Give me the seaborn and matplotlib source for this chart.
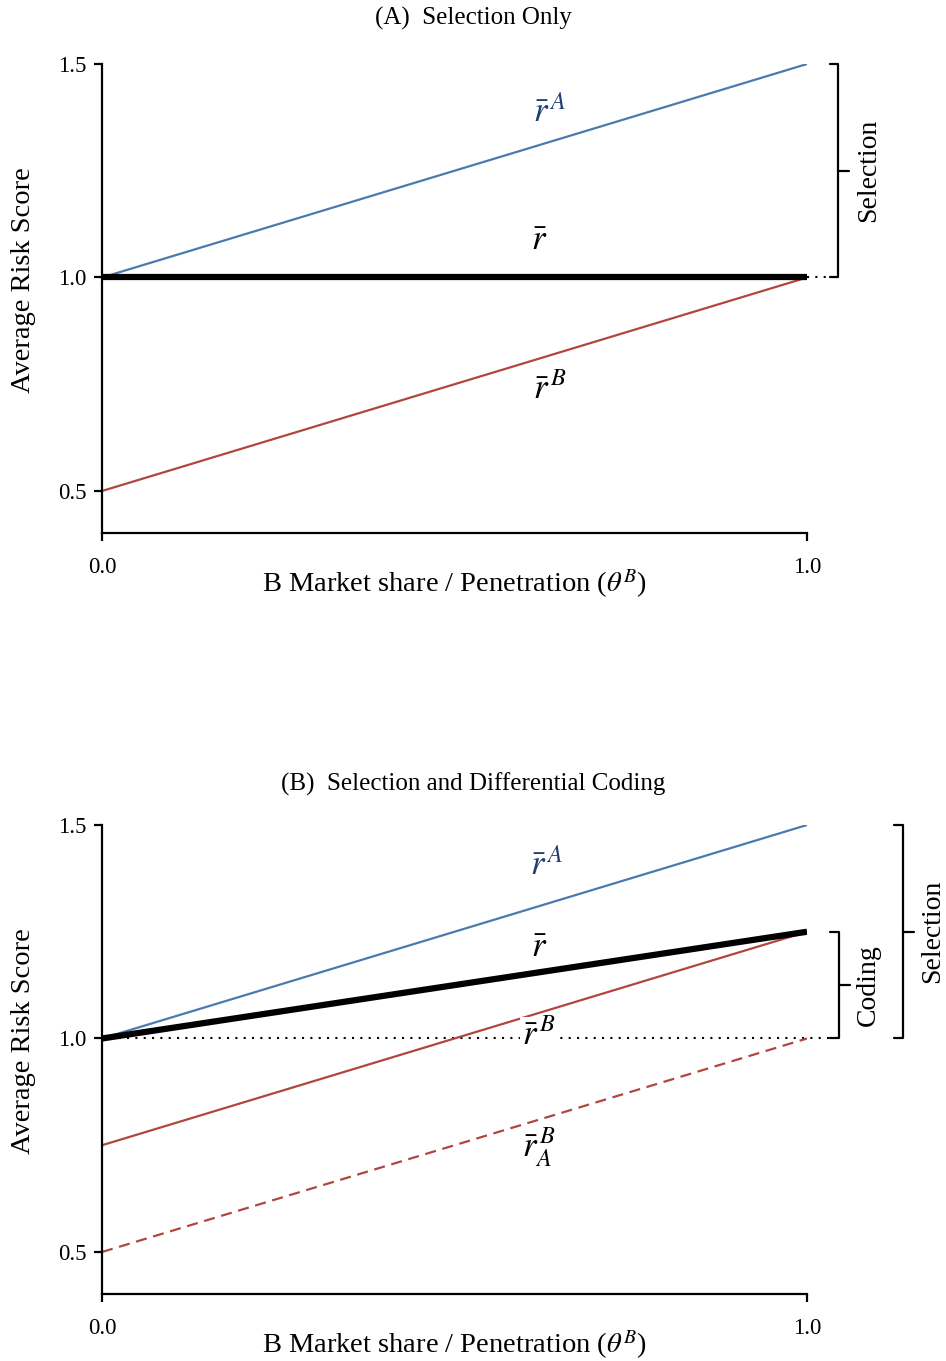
import matplotlib
matplotlib.use("Agg")
import matplotlib.pyplot as plt
import seaborn as sns
import pandas as pd

# ---- data ----
theta = [0.0, 1.0]
a_rA = [1.0, 1.5]
a_r = [1.0, 1.0]
a_rB = [0.5, 1.0]
b_rA = [1.0, 1.5]
b_r = [1.0, 1.25]
b_rB = [0.75, 1.25]
b_rAB = [0.5, 1.0]
yticks = [0.5, 1.0, 1.5]
xticks = [0.0, 1.0]

sns.set_theme(style="ticks")
plt.rcParams['font.family'] = ['Liberation Serif', 'DejaVu Serif']
plt.rcParams['mathtext.fontset'] = 'stix'
plt.rcParams['text.color'] = 'black'
plt.rcParams['axes.labelcolor'] = 'black'

BLUE = '#4a7aae'
RED = '#b0463f'
LBLUE = '#1f3f73'

fig = plt.figure(figsize=(9.46, 13.61), dpi=100)
W, H = 946, 1361
def axrect(top, bottom, left=102, right=807):
    return [left / W, 1 - bottom / H, (right - left) / W, (bottom - top) / H]

axA = fig.add_axes(axrect(64, 533))
axB = fig.add_axes(axrect(825, 1294))

def style(ax):
    ax.set_xlim(0, 1)
    ax.set_ylim(0.4016, 1.5)
    ax.set_xticks(xticks)
    ax.set_yticks(yticks)
    ax.set_xticklabels([f"{v:.1f}" for v in xticks])
    ax.set_yticklabels([f"{v:.1f}" for v in yticks])
    for s in ['top', 'right']:
        ax.spines[s].set_visible(False)
    for s in ['left', 'bottom']:
        ax.spines[s].set_linewidth(1.6)
        ax.spines[s].set_color('black')
    ax.tick_params(axis='both', which='major', length=6, width=1.6, color='black',
                   labelsize=16.5, labelcolor='black')
    ax.tick_params(axis='x', pad=11)
    ax.tick_params(axis='y', pad=5)
    ax.set_xlabel(r"B Market share / Penetration ($\theta^B$)", fontsize=20.5, color='black')
    ax.set_ylabel("Average Risk Score", fontsize=20.5, color='black')
    ax.xaxis.set_label_coords(0.5, -0.072)
    ax.yaxis.set_label_coords(-0.094, 0.54)
    ax.grid(False)

def bracket(ax, x, y0, y1, tick=0.012, nub=0.016):
    ym = (y0 + y1) / 2
    ax.plot([x - tick, x, x, x - tick], [y0, y0, y1, y1], color='black', lw=1.6,
            clip_on=False, solid_joinstyle='round')
    ax.plot([x, x + nub], [ym, ym], color='black', lw=1.6, clip_on=False)

# ---- panel A ----
dfA = pd.DataFrame({'theta': theta * 3,
                    'val': a_rA + a_r + a_rB,
                    'series': ['rA'] * 2 + ['r'] * 2 + ['rB'] * 2})
sns.lineplot(data=dfA[dfA.series == 'rA'], x='theta', y='val', color=BLUE, lw=1.6, ax=axA)
sns.lineplot(data=dfA[dfA.series == 'rB'], x='theta', y='val', color=RED, lw=1.6, ax=axA)
sns.lineplot(data=dfA[dfA.series == 'r'], x='theta', y='val', color='black', lw=4.5, ax=axA,
             solid_capstyle='butt')
axA.plot([1.0, 1.035], [1.0, 1.0], color='black', lw=1.5, ls=(0, (1, 3)), clip_on=False)
style(axA)
axA.text(0.635, 1.385, r"$\bar{r}^{\,A}$", color=LBLUE, fontsize=25, ha='center', va='center')
axA.text(0.62, 1.085, r"$\bar{r}$", color='black', fontsize=25, ha='center', va='center')
axA.text(0.635, 0.735, r"$\bar{r}^{\,B}$", color='black', fontsize=25, ha='center', va='center')
bracket(axA, 1.044, 1.0, 1.5)
axA.text(1.087, 1.25, "Selection", rotation=90, fontsize=20, ha='center', va='center')

# ---- panel B ----
dfB = pd.DataFrame({'theta': theta * 4,
                    'val': b_rA + b_r + b_rB + b_rAB,
                    'series': ['rA'] * 2 + ['r'] * 2 + ['rB'] * 2 + ['rAB'] * 2})
axB.plot([0.0, 1.035], [1.0, 1.0], color='black', lw=1.5, ls=(0, (1, 3)), clip_on=False)
sns.lineplot(data=dfB[dfB.series == 'rA'], x='theta', y='val', color=BLUE, lw=1.6, ax=axB)
sns.lineplot(data=dfB[dfB.series == 'rB'], x='theta', y='val', color=RED, lw=1.6, ax=axB)
sns.lineplot(data=dfB[dfB.series == 'rAB'], x='theta', y='val', color=RED, lw=1.6, ax=axB,
             linestyle=(0, (5, 3)))
sns.lineplot(data=dfB[dfB.series == 'r'], x='theta', y='val', color='black', lw=4.5, ax=axB,
             solid_capstyle='butt')
style(axB)
axB.text(0.63, 1.404, r"$\bar{r}^{\,A}$", color=LBLUE, fontsize=25, ha='center', va='center')
axB.text(0.62, 1.21, r"$\bar{r}$", color='black', fontsize=25, ha='center', va='center')
axB.text(0.62, 1.005, r"$\bar{r}^{\,B}$", color='black', fontsize=25, ha='center', va='center',
         bbox=dict(facecolor='white', edgecolor='none', pad=1.5))
axB.text(0.62, 0.745, r"$\bar{r}^{\,B}_{A}$", color='black', fontsize=25, ha='center', va='center')
bracket(axB, 1.045, 1.0, 1.25)
axB.text(1.087, 1.125, "Coding", rotation=90, fontsize=20, ha='center', va='center')
bracket(axB, 1.136, 1.0, 1.5)
axB.text(1.178, 1.25, "Selection", rotation=90, fontsize=20, ha='center', va='center')

fig.text(473 / W, 1 - 18 / H, "(A)  Selection Only", fontsize=18, ha='center', va='center')
fig.text(473 / W, 1 - 784 / H, "(B)  Selection and Differential Coding", fontsize=18,
         ha='center', va='center')

fig.savefig("out.png", dpi=100)
